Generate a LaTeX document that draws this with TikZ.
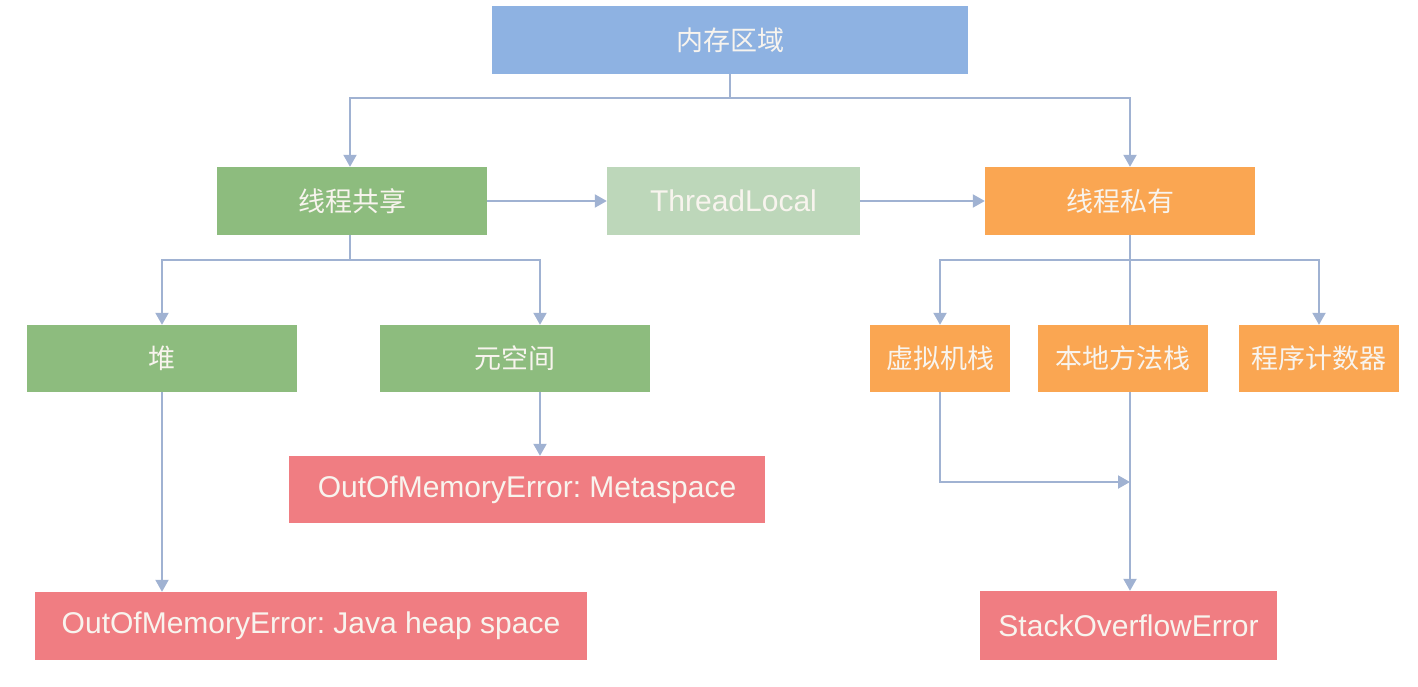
\documentclass[tikz,border=0pt]{standalone}
\usepackage{fontspec}
\setmainfont{Liberation Sans}
\newfontfamily\cjk{Noto Sans CJK SC}
\usetikzlibrary{arrows.meta}
\definecolor{cblue}{HTML}{8EB2E2}
\definecolor{cgreen}{HTML}{8DBC7E}
\definecolor{clgreen}{HTML}{BDD7BA}
\definecolor{corange}{HTML}{FAA652}
\definecolor{cred}{HTML}{F07D82}
\definecolor{cline}{HTML}{A0B2D2}
\definecolor{ctext}{HTML}{F8F4EE}
\tikzset{
  box/.style={rectangle, inner sep=0pt, text=ctext, anchor=center},
  cn/.style={font=\cjk\fontsize{27}{32}\selectfont},
  lt/.style={font=\fontsize{30}{36}\selectfont},
  conn/.style={draw=cline, line width=2pt},
  arr/.style={conn, -{Triangle[length=12pt,width=13pt]}},
}
\frenchspacing
\begin{document}
\begin{tikzpicture}[x=1pt,y=-1pt]
\useasboundingbox[fill=white] (0,0) rectangle (1418,687);
\node[box,cn,fill=cblue,minimum width=476pt,minimum height=68pt] (mem) at (730,40) {内存区域};
\node[box,cn,fill=cgreen,minimum width=270pt,minimum height=68pt] (share) at (352,201) {线程共享};
\node[box,lt,fill=clgreen,minimum width=253pt,minimum height=68pt] (tl) at (733.5,201) {ThreadLocal};
\node[box,cn,fill=corange,minimum width=270pt,minimum height=68pt] (priv) at (1120,201) {线程私有};
\node[box,cn,fill=cgreen,minimum width=270pt,minimum height=67pt] (heap) at (162,358.5) {堆};
\node[box,cn,fill=cgreen,minimum width=270pt,minimum height=67pt] (meta) at (515,358.5) {元空间};
\node[box,cn,fill=corange,minimum width=140pt,minimum height=67pt] (vms) at (940,358.5) {虚拟机栈};
\node[box,cn,fill=corange,minimum width=170pt,minimum height=67pt] (nms) at (1123,358.5) {本地方法栈};
\node[box,cn,fill=corange,minimum width=160pt,minimum height=67pt] (pc) at (1319,358.5) {程序计数器};
\node[box,lt,fill=cred,minimum width=476pt,minimum height=67pt] (oomm) at (527,489.5) {OutOfMemoryError: Metaspace};
\node[box,lt,fill=cred,minimum width=552pt,minimum height=68pt] (oomh) at (311,626) {OutOfMemoryError: Java heap space};
\node[box,lt,fill=cred,minimum width=297pt,minimum height=69pt] (soe) at (1128.5,625.5) {StackOverflowError};
\coordinate (spine) at (1130,0);
\coordinate (mx) at (540,0);
\coordinate (j0) at (730,98);
\coordinate (j1) at (350,260);
\coordinate (j2) at (1130,260);
\coordinate (vj) at (1130,482);
\draw[conn] (mem.south) -- (j0);
\draw[arr] (j0) -| ([xshift=-2pt]share.north);
\draw[arr] (j0) -| (priv.north -| spine);
\draw[arr] (share.east) -- (tl.west);
\draw[arr] (tl.east) -- (priv.west);
\draw[conn] ([xshift=-2pt]share.south) -- (j1);
\draw[arr] (j1) -| (heap.north);
\draw[arr] (j1) -| (meta.north -| mx);
\draw[arr] (meta.south -| mx) -- (oomm.north -| mx);
\draw[arr] (heap.south) -- (oomh.north -| heap.south);
\draw[conn] (priv.south -| spine) -- (nms.north -| spine);
\draw[arr] (j2) -| (vms.north);
\draw[arr] (j2) -| (pc.north);
\draw[arr] (nms.south -| spine) -- (soe.north -| spine);
\draw[arr] (vms.south) |- (vj);
\end{tikzpicture}
\end{document}
